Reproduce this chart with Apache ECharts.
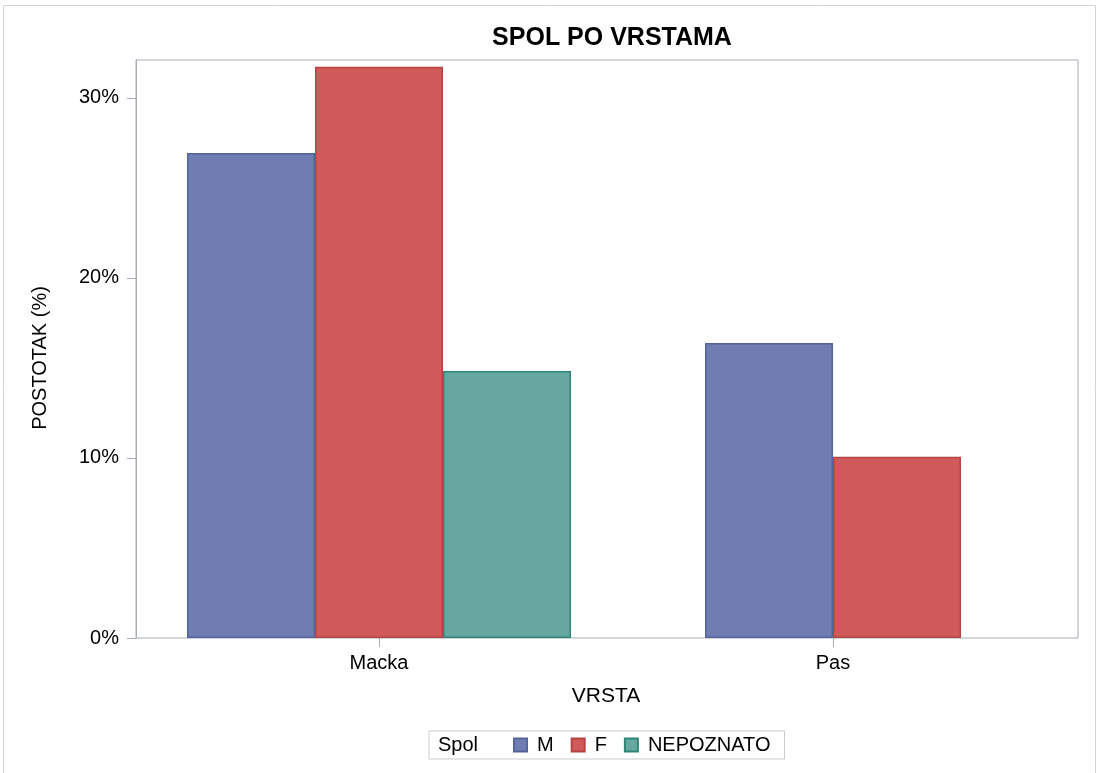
<!DOCTYPE html>
<html>
<head>
<meta charset="utf-8">
<script src="https://cdn.jsdelivr.net/npm/echarts@6/dist/echarts.min.js"></script>
<style>
	html, body { margin: 0; padding: 0; background: #fff; }
	#chart { width: 1097px; height: 773px; }
</style>
</head>
<body>
<div id="chart"></div>
<script>
var vrsta = ['Macka', 'Pas'];
var spolM = [26.94, 16.39];
var spolF = [31.72, 10.06];
var spolNepoznato = [14.83, null];
var yTicks = [0, 10, 20, 30];

var fontFam = 'Liberation Sans, Arial, sans-serif';

var colM = '#6f7db3', borderM = '#56649c';
var colF = '#d05a5a', borderF = '#b64343';
var colN = '#66a8a0', borderN = '#2e8577';

// Macka has 3 bars, Pas only 2: each category gets its own (identical) grid so both clusters are centered
var mackaOnly = function (arr) { return arr.map(function (v, i) { return i === 0 ? v : '-'; }); };
var pasOnly = function (arr) { return arr.map(function (v, i) { return i === 1 ? v : '-'; }); };

var chartDom = document.getElementById('chart');
var myChart = echarts.init(chartDom);
var option;

var yMax = 32.1;

function bar(name, data, gi, color, border) {
	return {
		name: name,
		type: 'bar',
		xAxisIndex: gi,
		yAxisIndex: gi,
		data: data,
		barWidth: 128,
		barGap: '0%',
		itemStyle: { color: color, borderColor: border, borderWidth: 1.5 },
		emphasis: { disabled: true }
	};
}

option = {
	animation: false,
	textStyle: { fontFamily: fontFam },
	title: {
		text: 'SPOL PO VRSTAMA',
		left: 607,
		top: 21,
		textAlign: 'center',
		textStyle: { fontSize: 25, fontWeight: 'bold', color: '#000', fontFamily: fontFam }
	},
	graphic: [
		{
			type: 'rect',
			shape: { x: 3.5, y: 5.5, width: 1092, height: 770 },
			style: { fill: 'none', stroke: '#d4d4d4', lineWidth: 1 },
			silent: true
		},
		{
			type: 'text',
			left: 438,
			top: 735,
			style: { text: 'Spol', fontSize: 20, fill: '#000', fontFamily: fontFam }
		}
	],
	legend: {
		data: ['M', 'F', 'NEPOZNATO'],
		left: 429,
		top: 731,
		orient: 'horizontal',
		icon: 'rect',
		padding: [4, 14, 4, 84],
		borderColor: '#cccccc',
		borderWidth: 1,
		itemWidth: 13,
		itemHeight: 13,
		itemGap: 17,
		selectedMode: false,
		textStyle: { fontSize: 20, color: '#000', fontFamily: fontFam, padding: [0, 0, 0, 5] }
	},
	grid: [
		{ left: 136, right: 19, top: 60, bottom: 135, show: true, borderColor: '#a6adb4', borderWidth: 1 },
		{ left: 152, right: 37, top: 60, bottom: 135 },
		{ left: 152, right: 37, top: 60, bottom: 135 }
	],
	xAxis: [
		{ type: 'category', gridIndex: 0, data: vrsta, show: false },
		{
			type: 'category',
			gridIndex: 1,
			data: vrsta,
			name: 'VRSTA',
			nameLocation: 'middle',
			nameGap: 48,
			nameTextStyle: { fontSize: 21, color: '#000', fontFamily: fontFam },
			axisLine: { show: false },
			axisTick: { show: true, alignWithLabel: true, length: 9, lineStyle: { color: '#a6adb4' } },
			axisLabel: { fontSize: 20, color: '#000', margin: 15, fontFamily: fontFam }
		},
		{ type: 'category', gridIndex: 2, data: vrsta, show: false }
	],
	yAxis: [
		{
			type: 'value',
			gridIndex: 0,
			min: 0,
			max: yMax,
			interval: 10,
			name: 'POSTOTAK (%)',
			nameLocation: 'middle',
			nameGap: 86,
			nameTextStyle: { fontSize: 20, color: '#000', fontFamily: fontFam, padding: [0, 18, 0, 0] },
			axisLine: { show: true, lineStyle: { color: '#a6adb4' } },
			axisTick: { show: true, length: 9, customValues: yTicks, lineStyle: { color: '#a6adb4' } },
			axisLabel: { fontSize: 20, color: '#000', margin: 17, customValues: yTicks, formatter: '{value}%', fontFamily: fontFam },
			splitLine: { show: false }
		},
		{ type: 'value', gridIndex: 1, min: 0, max: yMax, show: false },
		{ type: 'value', gridIndex: 2, min: 0, max: yMax, show: false }
	],
	series: [
		bar('M', mackaOnly(spolM), 1, colM, borderM),
		bar('F', mackaOnly(spolF), 1, colF, borderF),
		bar('NEPOZNATO', mackaOnly(spolNepoznato), 1, colN, borderN),
		bar('M', pasOnly(spolM), 2, colM, borderM),
		bar('F', pasOnly(spolF), 2, colF, borderF)
	]
};

option && myChart.setOption(option);
</script>
</body>
</html>
